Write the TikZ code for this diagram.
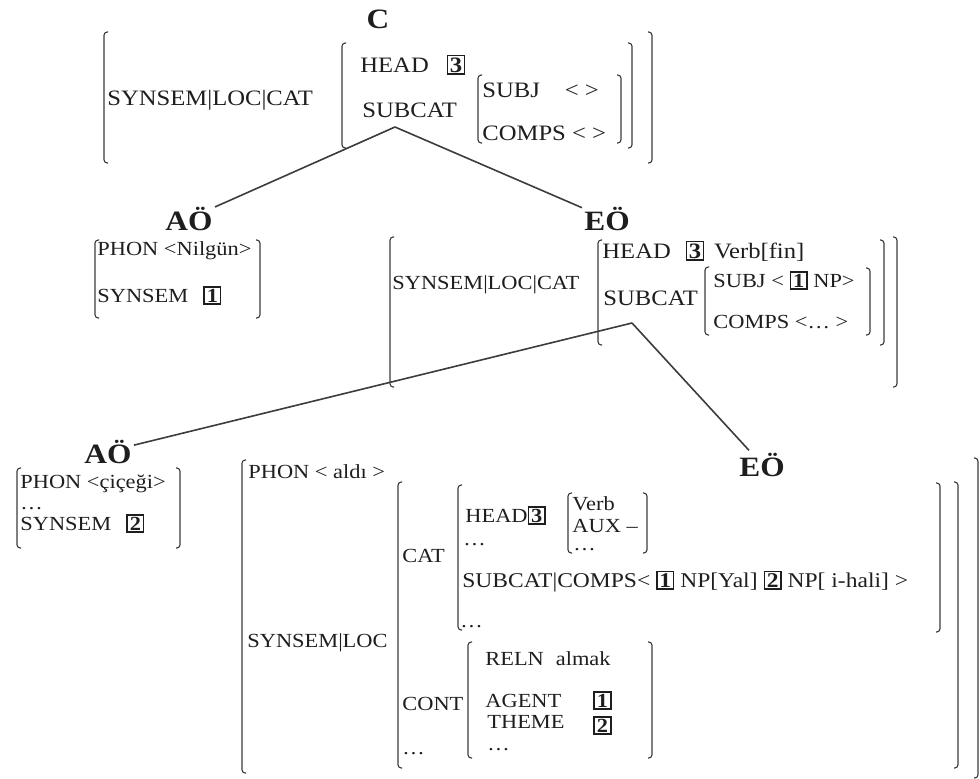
\documentclass[tikz,border=0pt]{standalone}
\usepackage{fontspec}
\setmainfont[FakeStretch=1.12]{Liberation Serif}
\usepackage{tikz}
\usetikzlibrary{positioning}
\definecolor{AVMInk}{HTML}{1E1E1E}
\definecolor{AVMLine}{HTML}{3C3C3C}
\newcommand\tg[1]{{\fboxsep=0.6pt\fboxrule=0.7pt\fbox{\makebox[6.5pt]{\bfseries #1}}}}
\newcommand\lbrk[3]{\draw[brk] (#1+4,#2) -- (#1,#2) -- (#1,#3) -- (#1+4,#3);}
\newcommand\rbrk[3]{\draw[brk] (#1-4,#2) -- (#1,#2) -- (#1,#3) -- (#1-4,#3);}

\begin{document}
\begin{tikzpicture}[x=0.5pt,y=-0.5pt,
  brk/.style={draw=AVMLine,line width=0.55pt,rounded corners=1.6pt},
  fs/.style={anchor=base west,inner sep=0pt,text=AVMInk,font=\fontsize{10}{12}\selectfont},
  fsl/.style={fs,font=\fontsize{11}{13}\selectfont},
  cat/.style={anchor=base,inner sep=1pt,text=AVMInk,font=\fontsize{14}{16}\selectfont\bfseries},
  branch/.style={draw=AVMLine,line width=0.8pt}]
\useasboundingbox (0,0) rectangle (980,778);
% C
\node[cat] (C) at (378,28) {C};
\lbrk{104}{32}{163}
\node[fsl] (locC) at (107,105) {SYNSEM|LOC|CAT};
\lbrk{342}{43}{148}
\node[fsl] (headC) at (360,72) {HEAD\hspace{9pt}\tg{3}};
\node[fsl] (subcatC) at (362,117) {SUBCAT};
\lbrk{478}{75}{143}
\node[fsl] (subjC) at (482,97) {SUBJ\hspace{12.5pt}< >};
\node[fsl] (compsC) at (482,140) {COMPS < >};
\rbrk{621}{75}{143}
\rbrk{632}{43}{148}
\rbrk{652}{32}{163}
\coordinate (forkC) at (395,127);
% AÖ (Nilgün)
\node[cat] (AO1) at (189,230) {AÖ};
\lbrk{95}{240}{318}
\node[fs] (phon1) at (97,255) {PHON <Nilgün>};
\node[fs] (ss1) at (97,302) {SYNSEM\hspace{7.5pt}\tg{1}};
\rbrk{260}{240}{318}
% EÖ
\node[cat] (EO1) at (607,230) {EÖ};
\lbrk{390}{237}{387}
\node[fs] (locE) at (392,289) {SYNSEM|LOC|CAT};
\lbrk{598}{240}{345}
\node[fsl] (headE) at (602,258) {HEAD\hspace{7.5pt}\tg{3}\hspace{5pt}Verb[fin]};
\node[fsl] (subcatE) at (603,305) {SUBCAT};
\lbrk{705}{267}{335}
\node[fs] (subjE) at (713,287) {SUBJ < \tg{1} NP>};
\node[fs] (compsE) at (713,328) {COMPS <… >};
\rbrk{870}{268}{335}
\rbrk{884}{240}{345}
\rbrk{897}{237}{387}
\coordinate (forkE) at (632,323);
% AÖ (çiçeği)
\node[cat] (AO2) at (108,463) {AÖ};
\lbrk{17}{468}{548}
\node[fs] (phon2) at (20,488) {PHON <çiçeği>};
\node[fs] (dots2) at (20,509) {…};
\node[fs] (ss2) at (20,530) {SYNSEM\hspace{7.5pt}\tg{2}};
\rbrk{180}{468}{548}
% EÖ (aldı)
\node[cat] (EO2) at (762,476) {EÖ};
\lbrk{242}{460}{773}
\node[fs] (phon3) at (248,478) {PHON < aldı >};
\node[fs] (ss3) at (247,647) {SYNSEM|LOC};
\lbrk{398}{482}{768}
\node[fs] (cat3) at (402,562) {CAT};
\lbrk{458}{485}{630}
\node[fs] (head3) at (465,522) {HEAD\tg{3}};
\lbrk{568}{493}{553}
\node[fs] (verb3) at (572,510) {Verb};
\node[fs] (aux3) at (572,532) {AUX –};
\node[fs] (vdots3) at (573,550) {…};
\rbrk{647}{493}{553}
\node[fs] (hdots3) at (463,545) {…};
\node[fs,font=\fontsize{10.5}{12}\selectfont] (comps3) at (462,587) {SUBCAT|COMPS< \tg{1} NP[Yal]\hspace{3pt}\tg{2} NP[ i-hali] >};
\node[fs] (cdots3) at (460,627) {…};
\rbrk{940}{483}{632}
\node[fs] (cont3) at (402,710) {CONT};
\node[fs] (odots3) at (402,754) {…};
\lbrk{468}{642}{758}
\node[fs] (reln3) at (485,665) {RELN\hspace{6pt}almak};
\node[fs] (agent3) at (485,707) {AGENT};
\node[fs] (theme3) at (487,728) {THEME};
\node[fs] (ag3) at (593,707) {\tg{1}};
\node[fs] (th3) at (593,732) {\tg{2}};
\node[fs] (tdots3) at (487,750) {…};
\rbrk{652}{642}{758}
\rbrk{958}{482}{768}
\rbrk{978}{458}{778}
% branches
\draw[branch] (forkC) -- (AO1);
\draw[branch] (forkC) -- (EO1);
\draw[branch] (forkE) -- (AO2);
\draw[branch] (forkE) -- (EO2);
\end{tikzpicture}
\end{document}
